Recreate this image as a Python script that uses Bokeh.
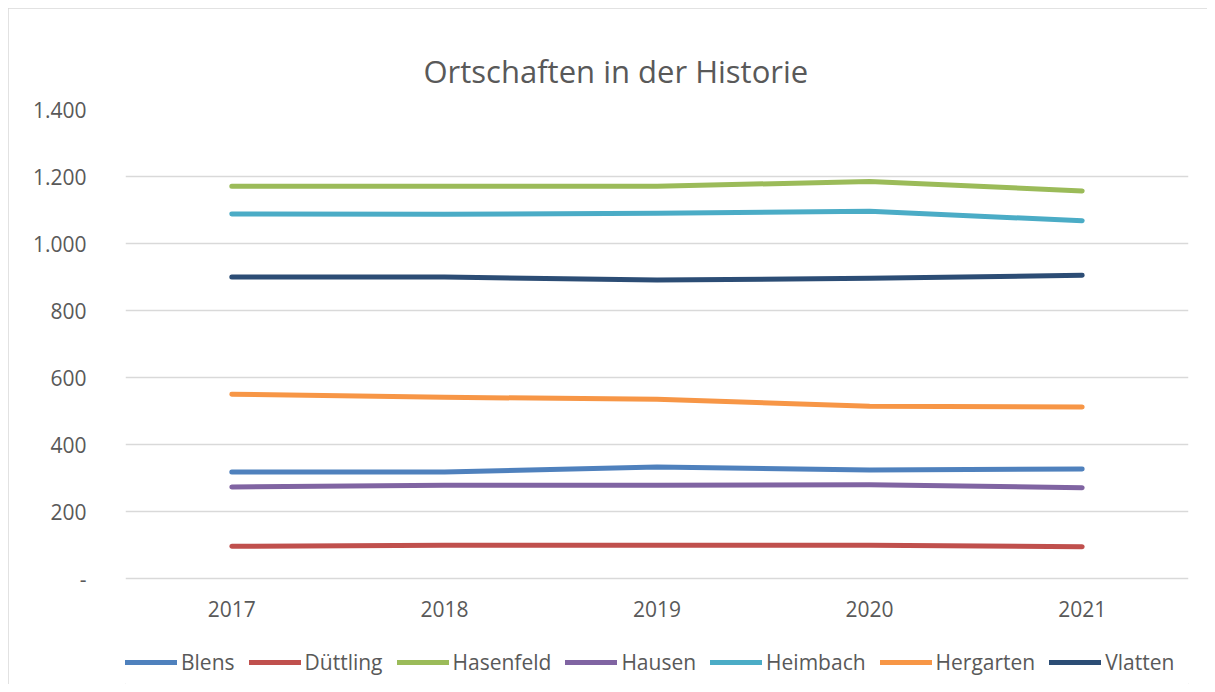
from bokeh.plotting import figure
from bokeh.models import (FactorRange, Range1d, FixedTicker, Legend, LegendItem)
from bokeh.embed import file_html
from bokeh.resources import INLINE

years = ["2017", "2018", "2019", "2020", "2021"]
blens     = [318, 318, 333, 324, 327]
duettling = [96, 99, 99, 99, 95]
hasenfeld = [1171, 1171, 1171, 1185, 1157]
hausen    = [273, 278, 278, 280, 271]
heimbach  = [1088, 1087, 1090, 1096, 1068]
hergarten = [550, 541, 535, 514, 512]
vlatten   = [900, 900, 891, 896, 905]

series_names = ["Blens", "Düttling", "Hasenfeld", "Hausen", "Heimbach", "Hergarten", "Vlatten"]
series_values = [blens, duettling, hasenfeld, hausen, heimbach, hergarten, vlatten]
colors = ["#4F81BD", "#C0504D", "#9BBB59", "#8064A2", "#4BACC6", "#F79646", "#2C4D75"]

y_ticks = [0, 200, 400, 600, 800, 1000, 1200, 1400]
y_tick_labels = ["-", "200", "400", "600", "800", "1.000", "1.200", "1.400"]

FONT = "Open Sans"
TXT = "#595959"

# frame extends below the value axis to host the legend (0 sits 106px above the frame bottom)
p = figure(frame_width=1063, frame_height=575, x_range=FactorRange(*years),
           y_range=Range1d(-316.4, 1400),
           output_backend="svg", toolbar_location=None,
           min_border_left=117, min_border_right=19, min_border_top=101, min_border_bottom=0)
p.styles = {"margin": "8px", "outline": "1px solid #d9d9d9", "outline-offset": "-1px"}
p.outline_line_color = None
p.background_fill_color = "white"
p.border_fill_color = "white"

p.title.text = "Ortschaften in der Historie"
p.title.text_font = FONT
p.title.text_font_size = "31px"
p.title.text_font_style = "normal"
p.title.text_color = TXT
p.title.align = "left"
p.title.offset = 298
p.title.standoff = 36

p.yaxis.ticker = FixedTicker(ticks=y_ticks)
p.yaxis.major_label_overrides = {t: l for t, l in zip(y_ticks, y_tick_labels)}
for ax in (p.xaxis[0], p.yaxis[0]):
    ax.axis_line_color = None
    ax.major_tick_line_color = None
    ax.minor_tick_line_color = None
    ax.major_tick_out = 0
    ax.major_tick_in = 0
    ax.major_label_text_font = FONT
    ax.major_label_text_font_size = "21px"
    ax.major_label_text_color = TXT
p.yaxis.major_label_standoff = 39
p.xaxis.major_label_standoff = 22
p.xaxis.fixed_location = 0

p.xgrid.grid_line_color = None
p.ygrid.grid_line_color = "#d9d9d9"
p.ygrid.grid_line_width = 1.5

items = []
for name, vals, c in zip(series_names, series_values, colors):
    r = p.line(years, vals, line_color=c, line_width=5, line_cap="round", line_join="round")
    items.append(LegendItem(label=name, renderers=[r]))

legend = Legend(items=items, orientation="horizontal", location=(0, 8),
                label_text_font=FONT, label_text_font_size="21px", label_text_color=TXT,
                glyph_width=52, glyph_height=20, label_standoff=4, spacing=14,
                padding=0, margin=0, border_line_color=None, background_fill_alpha=0)
p.add_layout(legend)

open("out.html", "w").write(file_html(p, INLINE))
